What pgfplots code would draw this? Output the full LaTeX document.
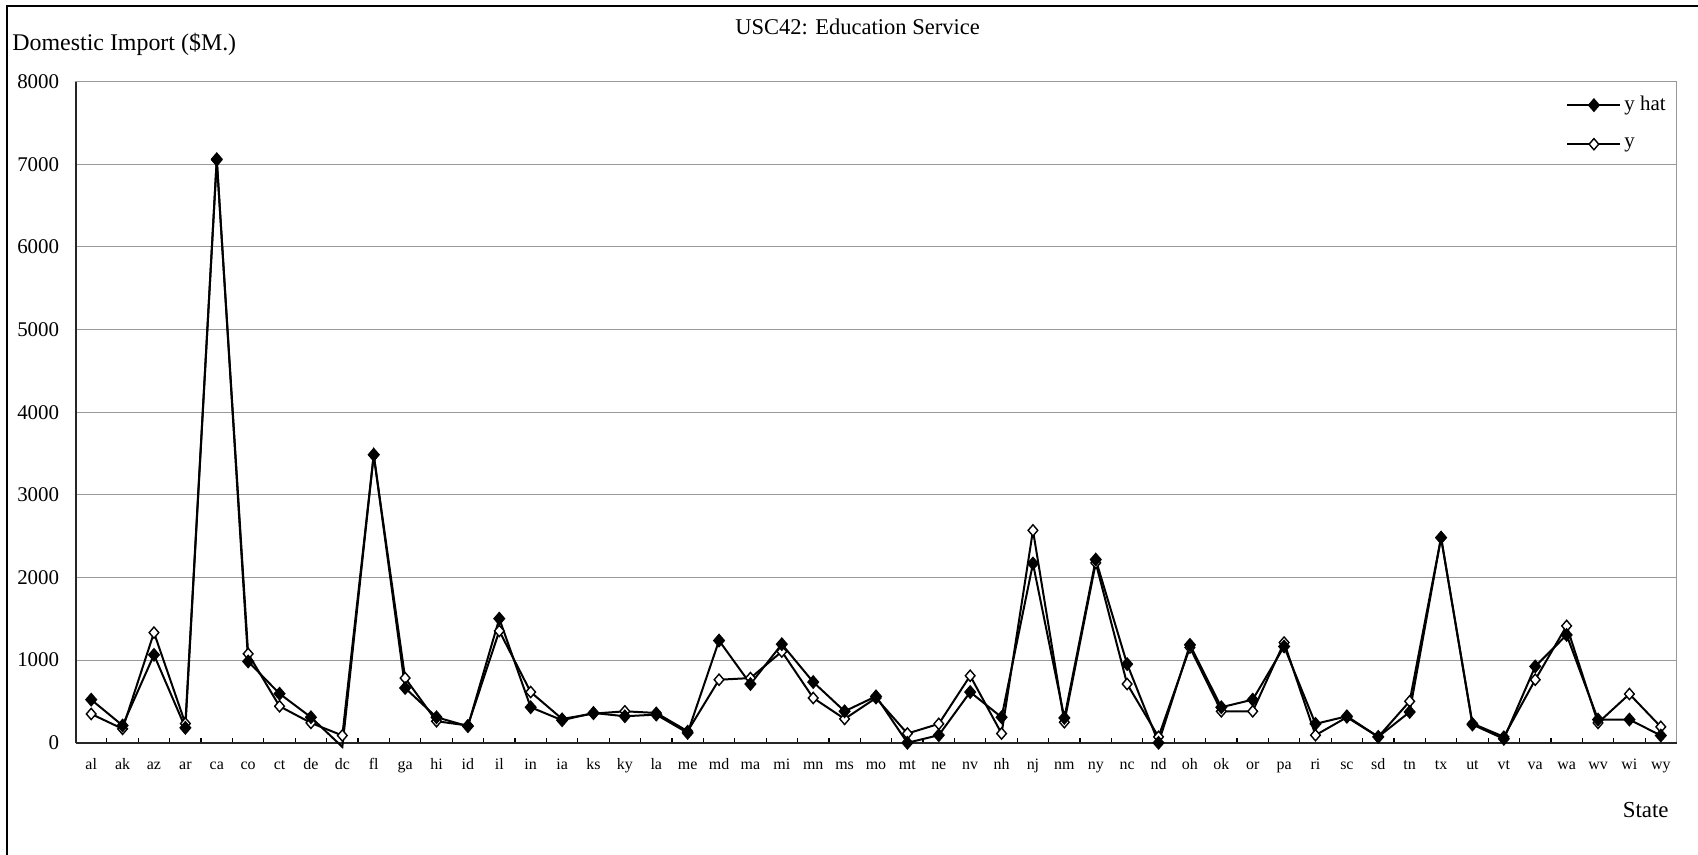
\documentclass[border=0pt]{standalone}
\usepackage{pgfplots}
\pgfplotsset{compat=1.18}
\usepackage{pgfplotstable}
\usepackage{fontspec}
\setmainfont{Liberation Serif}

\pgfplotstableread{
idx state yhat y
0 al 522 349
1 ak 209 169
2 az 1064 1333
3 ar 181 233
4 ca 7060 7050
5 co 984 1076
6 ct 594 442
7 de 309 241
8 dc -50 88
9 fl 3486 3480
10 ga 663 783
11 hi 309 261
12 id 201 209
13 il 1502 1353
14 in 430 614
15 ia 273 289
16 ks 361 353
17 ky 321 381
18 la 341 361
19 me 120 140
20 md 1237 763
21 ma 711 783
22 mi 1193 1104
23 mn 735 542
24 ms 381 289
25 mo 562 542
26 mt 0 112
27 ne 92 229
28 nv 614 811
29 nh 309 112
30 nj 2169 2570
31 nm 301 249
32 ny 2217 2177
33 nc 952 711
34 nd 0 72
35 oh 1185 1153
36 ok 430 381
37 or 522 381
38 pa 1165 1213
39 ri 229 92
40 sc 321 309
41 sd 72 72
42 tn 373 502
43 tx 2482 2482
44 ut 221 233
45 vt 48 72
46 va 924 763
47 wa 1305 1414
48 wv 281 241
49 wi 281 590
50 wy 88 193
}\data

\begin{document}
\begin{tikzpicture}
\useasboundingbox (0,0) rectangle (849bp,427.5bp);
\draw[line width=1.3bp] (3.5bp,-2bp) -- (3.5bp,424.5bp) -- (851bp,424.5bp);
\begin{axis}[
  at={(37.75bp,56.1bp)}, anchor=south west,
  scale only axis, width=800.5bp, height=330.65bp,
  xmin=-0.5, xmax=50.5, ymin=0, ymax=8000,
  ytick distance=1000,
  xtick={0,...,50},
  xticklabels={al,ak,az,ar,ca,co,ct,de,dc,fl,ga,hi,id,il,in,ia,ks,ky,la,me,md,ma,mi,mn,ms,mo,mt,ne,nv,nh,nj,nm,ny,nc,nd,oh,ok,or,pa,ri,sc,sd,tn,tx,ut,vt,va,wa,wv,wi,wy},
  minor xtick={0.5,1.5,...,49.5},
  major tick length=0pt,
  minor tick length=2.2bp,
  tick align=inside,
  tick pos=left,
  minor tick style={black, line width=0.6bp},
  ymajorgrids,
  major grid style={gray!80, line width=0.5bp},
  axis line style={gray!80, line width=0.5bp},
  /pgf/number format/1000 sep={},
  /pgf/number format/assume math mode=true,
  xticklabel style={font=\fontsize{8}{10}\selectfont, anchor=base, inner sep=0pt, yshift=-13.5bp},
  yticklabel style={font=\fontsize{10.5}{12}\selectfont, anchor=east, inner sep=0pt, xshift=-8bp},
  clip=false,
  reverse legend,
  legend style={at={(0.931,0.9826)}, anchor=north west, draw=none, fill=none,
    font=\fontsize{10.5}{12}\selectfont, inner sep=0pt, row sep=9bp,
    nodes={inner sep=1.5bp}},
  legend cell align=left,
  legend image code/.code={
    \draw[#1, mark indices={2}] plot coordinates {(0bp,0bp) (13.25bp,0bp) (26.5bp,0bp)};
  },
]
\draw[black!85, line width=1bp] (rel axis cs:0,0) -- (rel axis cs:0,1);
\draw[black!85, line width=1.2bp] (rel axis cs:0,0) -- (rel axis cs:1,0);
\addplot[black, line width=1bp, mark=diamond*, mark size=2.8bp,
  mark options={solid, fill=white, line width=0.7bp, xscale=1.15}]
  table[x=idx, y=y] {\data};
\addlegendentry{y}
\addplot[black, line width=1bp, mark=diamond*, mark size=2.8bp,
  mark indices={1,...,8,10,11,...,51},
  mark options={solid, fill=black, xscale=1.15}]
  table[x=idx, y=yhat] {\data};
\addlegendentry{y hat}
\end{axis}
\node[font=\fontsize{11.3}{13}\selectfont] at (428.75bp,414.2bp) {USC42: Education Service};
\node[font=\fontsize{12}{14}\selectfont, anchor=west, inner sep=0pt] at (6bp,405.5bp) {Domestic Import (\$M.)};
\node[font=\fontsize{11.5}{13}\selectfont, anchor=east, inner sep=0pt] at (834.5bp,22.5bp) {State};
\end{tikzpicture}
\end{document}
